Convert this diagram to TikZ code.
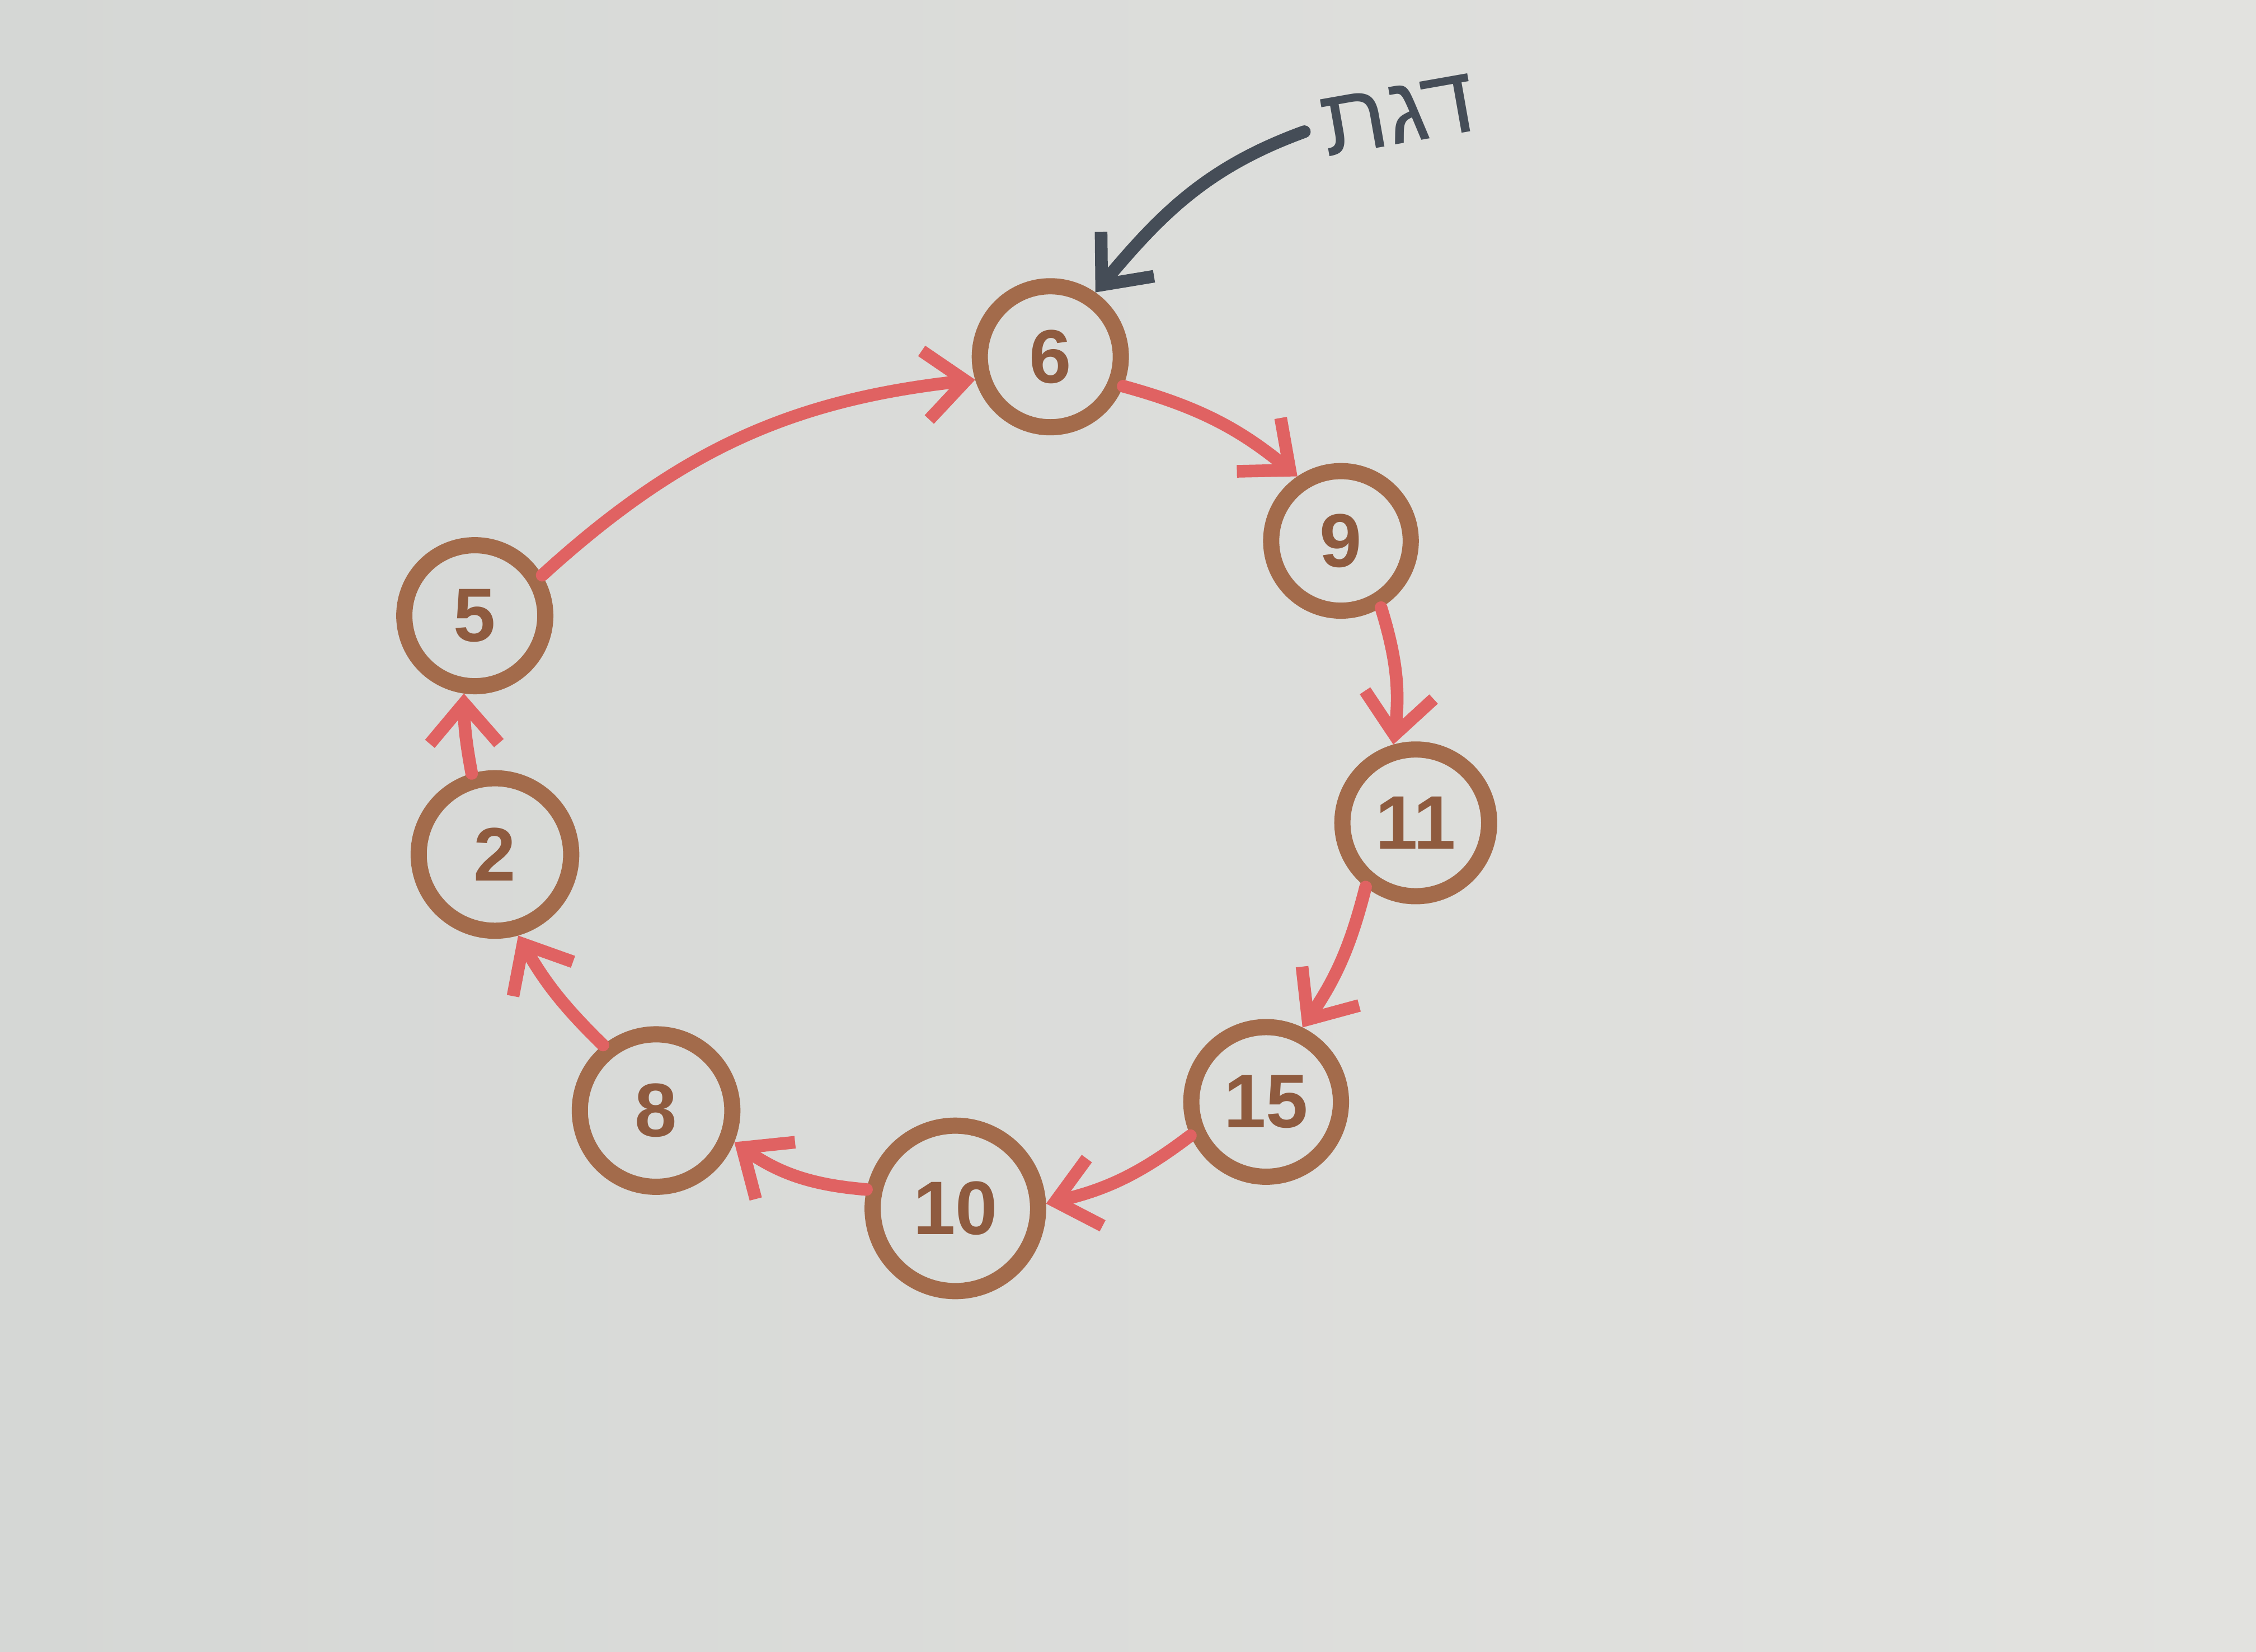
\documentclass[tikz,border=0pt]{standalone}
\usepackage{fontspec}
\setsansfont{Liberation Sans}
\newfontfamily\hebfont[Script=Hebrew]{Liberation Sans}
\TeXXeTstate=1
\usepackage{xcolor}
\usetikzlibrary{arrows.meta}
\definecolor{paperdark}{HTML}{D5D7D5}
\definecolor{paperlight}{HTML}{E2E2DF}
\definecolor{ringbrown}{HTML}{A36B4B}
\definecolor{digitbrown}{HTML}{8F5B3F}
\definecolor{linkred}{HTML}{E06262}
\definecolor{penslate}{HTML}{454D57}

\begin{document}
\begin{tikzpicture}[
    node_style/.style={
        circle,
        draw=ringbrown,
        line width=3.2pt,
        inner sep=0pt,
        text=digitbrown,
        font=\sffamily\bfseries\fontsize{15}{15}\selectfont
        },
    edge_style/.style={
        draw=linkred,
        line width=2.5pt,
        line cap=round,
        -{Straight Barb[length=2.8mm,width=4.8mm,line width=2.5pt]}
        },
    label_style/.style={
        text=penslate,
        font=\hebfont\fontsize{19}{19}\selectfont
        }]

    % paper
    \shade[left color=paperdark, right color=paperlight] (0,0) rectangle (15.68,11.48);
    \useasboundingbox (0,0) rectangle (15.68,11.48);

    \node[node_style, minimum size=0.98cm](n6) at (7.30,9.00) {6};
    \node[node_style, minimum size=0.97cm](n9) at (9.32,7.72) {9};
    \node[node_style, minimum size=1.02cm](n11) at (9.84,5.76) {11};
    \node[node_style, minimum size=1.04cm](n15) at (8.80,3.82) {15};
    \node[node_style, minimum size=1.15cm](n10) at (6.64,3.08) {10};
    \node[node_style, minimum size=1.06cm](n8) at (4.56,3.76) {8};
    \node[node_style, minimum size=1.06cm](n2) at (3.44,5.54) {2};
    \node[node_style, minimum size=0.98cm](n5) at (3.30,7.20) {5};

    \draw[edge_style] (n6.-22) to[bend left=12] (n9.124);
    \draw[edge_style] (n9.-59) to[bend left=12] (n11.106);
    \draw[edge_style] (n11.-128) to[bend left=10] (n15.64);
    \draw[edge_style] (n15.-156) to[bend left=12] (n10.3);
    \draw[edge_style] (n10.168) to[bend left=15] (n8.-22);
    \draw[edge_style] (n8.129) to[bend left=8] (n2.-74);
    \draw[edge_style] (n2.106) to[bend left=5] (n5.-98);
    \draw[edge_style] (n5.31) to[bend left=18] (n6.-163);

    % pointer to the first node
    \node[label_style, rotate=10] (lbl) at (9.72,10.68) {\beginR דגת\endR};
    \draw[draw=penslate, line width=2.5pt, line cap=round,
          -{Straight Barb[length=2.8mm,width=4.8mm,line width=2.5pt]}]
        (lbl.west) to[out=200, in=50] (n6.55);
\end{tikzpicture}
\end{document}
